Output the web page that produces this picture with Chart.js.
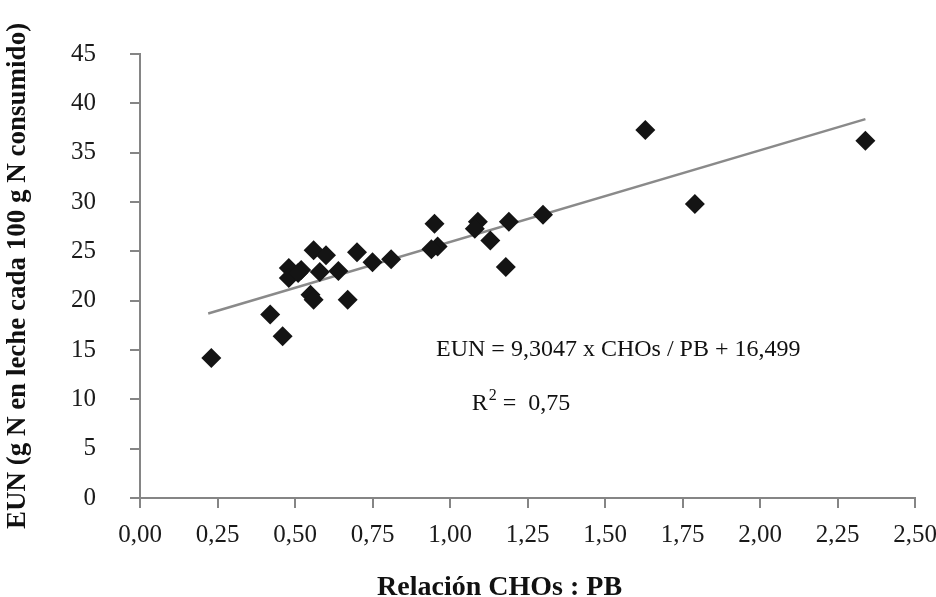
<!DOCTYPE html>
<html>
<head>
<meta charset="utf-8">
<script src="https://cdn.jsdelivr.net/npm/chart.js@4/dist/chart.umd.min.js"></script>
<style>
  html, body { margin: 0; padding: 0; background: #fff; }
  #wrap { width: 936px; height: 597px; }
</style>
</head>
<body>
<div id="wrap"><canvas id="grafico"></canvas></div>
<script>
// datos (relacion CHOs:PB vs EUN)
const relacion = [0.23, 0.42, 0.46, 0.48, 0.48, 0.52, 0.51, 0.56, 0.60, 0.58, 0.64, 0.55, 0.56, 0.67, 0.70, 0.75, 0.81, 0.95, 0.96, 0.94, 1.09, 1.08, 1.13, 1.19, 1.18, 1.30, 1.63, 1.79, 2.34];
const eun      = [14.2, 18.6, 16.4, 23.3, 22.3, 23.1, 22.8, 25.1, 24.6, 22.9, 23.0, 20.6, 20.1, 20.1, 24.9, 23.9, 24.2, 27.8, 25.5, 25.2, 28.0, 27.3, 26.1, 28.0, 23.4, 28.7, 37.3, 29.8, 36.2];

// linea de tendencia (extremos)
const tendenciaX = [0.22, 2.34];
const tendenciaY = [18.7, 38.4];

const ticksX = [0, 0.25, 0.5, 0.75, 1, 1.25, 1.5, 1.75, 2, 2.25, 2.5];
const ticksY = [0, 5, 10, 15, 20, 25, 30, 35, 40, 45];

const tituloX = 'Relación CHOs : PB';
const tituloY = 'EUN (g N en leche cada 100 g N consumido)';
const ecuacion = 'EUN = 9,3047 x CHOs / PB + 16,499';
const r2Texto = ['R', '2', ' =  0,75'];

const FUENTE = '"Liberation Serif", "Times New Roman", serif';

// textos: ecuacion, R2 y titulo del eje X
const textosExtra = {
  id: 'textosExtra',
  afterDatasetsDraw(chart) {
    const ctx = chart.ctx;
    const x = chart.scales.x;
    const y = chart.scales.y;
    ctx.save();
    ctx.fillStyle = '#111';
    ctx.textBaseline = 'middle';
    ctx.font = '24px ' + FUENTE;
    ctx.fillText(ecuacion, x.getPixelForValue(0.955), y.getPixelForValue(15.0));

    let px = x.getPixelForValue(1.07);
    const py = y.getPixelForValue(9.6);
    ctx.fillText(r2Texto[0], px, py);
    px += ctx.measureText(r2Texto[0]).width + 1;
    ctx.font = '16px ' + FUENTE;
    ctx.fillText(r2Texto[1], px, py - 7);
    px += ctx.measureText(r2Texto[1]).width;
    ctx.font = '24px ' + FUENTE;
    ctx.fillText(r2Texto[2], px, py);

    // titulo X (un poco a la izquierda del centro, como en el original)
    ctx.textAlign = 'center';
    ctx.textBaseline = 'alphabetic';
    ctx.font = 'bold 28px ' + FUENTE;
    ctx.fillText(tituloX, x.getPixelForValue(1.16), chart.height - 2);
    ctx.restore();
  }
};

const ctx = document.getElementById('grafico').getContext('2d');
const grafico = new Chart(ctx, {
  type: 'scatter',
  data: {
    datasets: [
      {
        label: 'EUN',
        data: relacion.map((v, i) => ({ x: v, y: eun[i] })),
        pointStyle: 'rectRot',
        pointRadius: 10,
        pointHoverRadius: 10,
        backgroundColor: '#141414',
        borderColor: '#141414',
        borderWidth: 0,
        order: 1
      },
      {
        type: 'line',
        label: 'Tendencia',
        data: tendenciaX.map((v, i) => ({ x: v, y: tendenciaY[i] })),
        borderColor: '#8a8a8a',
        borderWidth: 2.5,
        pointRadius: 0,
        fill: false,
        order: 2
      }
    ]
  },
  options: {
    responsive: true,
    maintainAspectRatio: false,
    animation: false,
    layout: { padding: { top: 54, right: 21, left: 0, bottom: 0 } },
    plugins: { legend: { display: false }, tooltip: { enabled: false } },
    scales: {
      x: {
        type: 'linear',
        min: 0,
        max: 2.5,
        afterBuildTicks: (s) => { s.ticks = ticksX.map(v => ({ value: v })); },
        afterFit: (s) => { s.height = 99; s.paddingLeft = 0; s.paddingRight = 0; },
        border: { color: '#858585', width: 2 },
        grid: { drawOnChartArea: false, drawTicks: true, tickLength: 10, color: '#858585', lineWidth: 2 },
        ticks: {
          color: '#1a1a1a',
          padding: 12,
          maxRotation: 0,
          font: { family: FUENTE, size: 25 },
          callback: (v) => Number(v).toFixed(2).replace('.', ',')
        }
      },
      y: {
        type: 'linear',
        min: 0,
        max: 45,
        afterBuildTicks: (s) => { s.ticks = ticksY.map(v => ({ value: v })); },
        afterFit: (s) => { s.width = 140; },
        border: { color: '#858585', width: 2 },
        grid: { drawOnChartArea: false, drawTicks: true, tickLength: 10, color: '#858585', lineWidth: 2 },
        ticks: {
          color: '#1a1a1a',
          padding: 34,
          font: { family: FUENTE, size: 25 }
        },
        title: {
          display: true,
          text: tituloY,
          color: '#111',
          font: { family: FUENTE, size: 27, weight: 'bold' },
          padding: { top: 2, bottom: 0 }
        }
      }
    }
  },
  plugins: [textosExtra]
});
</script>
</body>
</html>
